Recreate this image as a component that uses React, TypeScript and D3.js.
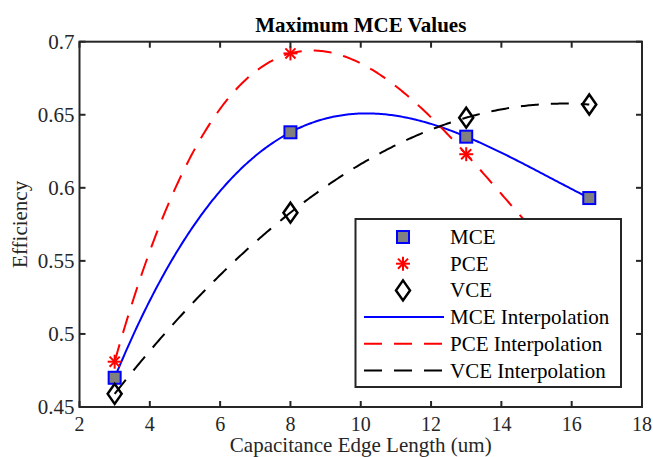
import React from "react";
import * as d3 from "d3";

const edgeLengths = [3, 8, 13, 16.5];
const mceValues = [0.47, 0.638, 0.635, 0.593];
const pceValues = [0.481, 0.692, 0.623, 0.531];
const vceValues = [0.459, 0.583, 0.648, 0.657];
const xTicks = [2, 4, 6, 8, 10, 12, 14, 16, 18];
const yTicks = [0.45, 0.5, 0.55, 0.6, 0.65, 0.7];
const legendLabels = ["MCE", "PCE", "VCE", "MCE Interpolation", "PCE Interpolation", "VCE Interpolation"];

const W = 653;
const H = 457;
const FONT = "Liberation Serif";
const AX = "#262626";
const txt = { fontFamily: FONT };

function lagrange(xs: number[], ys: number[], x: number) {
  let s = 0;
  for (let i = 0; i < xs.length; i++) {
    let t = ys[i];
    for (let j = 0; j < xs.length; j++) if (j !== i) t *= (x - xs[j]) / (xs[i] - xs[j]);
    s += t;
  }
  return s;
}

function Square({ x, y }: { x: number; y: number }) {
  return <rect x={x - 6} y={y - 6} width={12} height={12} fill="#808080" stroke="#0000ff" strokeWidth={2} />;
}
function Star({ x, y }: { x: number; y: number }) {
  const r = 7;
  const d = r * 0.72;
  return (
    <g stroke="#ff0000" strokeWidth={2}>
      <line x1={x - r} y1={y} x2={x + r} y2={y} />
      <line x1={x} y1={y - r} x2={x} y2={y + r} />
      <line x1={x - d} y1={y - d} x2={x + d} y2={y + d} />
      <line x1={x - d} y1={y + d} x2={x + d} y2={y - d} />
    </g>
  );
}
function Diamond({ x, y }: { x: number; y: number }) {
  return (
    <path
      d={`M${x},${y - 10} L${x + 7},${y} L${x},${y + 10} L${x - 7},${y} Z`}
      fill="none"
      stroke="#000"
      strokeWidth={2.5}
    />
  );
}

export default function App() {
  const left = 79.5, right = 642, top = 41.7, bottom = 407;
  const x = d3.scaleLinear().domain([2, 18]).range([left, right]);
  const y = d3.scaleLinear().domain([0.45, 0.7]).range([bottom, top]);
  const samples = d3.range(0, 301).map((i) => 3 + (i / 300) * (16.5 - 3));
  const line = d3
    .line<number[]>()
    .x((d) => x(d[0]))
    .y((d) => y(d[1]));
  const curve = (vals: number[]) => line(samples.map((s) => [s, lagrange(edgeLengths, vals, s)]))!;

  const legX = 355.5, legY = 219, legW = 265.5, legH = 168;
  const rowY = (i: number) => 237 + i * 26.7;
  const markX = 403;

  return (
    <svg width={W} height={H} style={{ position: "absolute", left: 0, top: 0, background: "#fff" }}>
      <defs>
        <clipPath id="plotclip">
          <rect x={left} y={top} width={right - left} height={bottom - top} />
        </clipPath>
      </defs>
      <rect width={W} height={H} fill="#fff" />
      <g clipPath="url(#plotclip)" fill="none" strokeWidth={2}>
        <path d={curve(mceValues)} stroke="#0000ff" />
        <path d={curve(pceValues)} stroke="#ff0000" strokeDasharray="18,12" />
        <path d={curve(vceValues)} stroke="#000" strokeDasharray="18,12" />
      </g>
      {edgeLengths.map((e, i) => (
        <g key={"m" + i}>
          <Square x={x(e)} y={y(mceValues[i])} />
          <Star x={x(e)} y={y(pceValues[i])} />
          <Diamond x={x(e)} y={y(vceValues[i])} />
        </g>
      ))}
      <rect x={left} y={top} width={right - left} height={bottom - top} fill="none" stroke={AX} strokeWidth={2} />
      {xTicks.map((t) => (
        <g key={"xt" + t}>
          <line x1={x(t)} x2={x(t)} y1={bottom} y2={bottom - 6} stroke={AX} strokeWidth={2} />
          <line x1={x(t)} x2={x(t)} y1={top} y2={top + 6} stroke={AX} strokeWidth={2} />
          <text x={x(t)} y={431} textAnchor="middle" fontSize={20} fill="#262626" style={txt}>
            {t}
          </text>
        </g>
      ))}
      {yTicks.map((t) => (
        <g key={"yt" + t}>
          <line x1={left} x2={left + 6} y1={y(t)} y2={y(t)} stroke={AX} strokeWidth={2} />
          <line x1={right} x2={right - 6} y1={y(t)} y2={y(t)} stroke={AX} strokeWidth={2} />
          <text x={left - 5} y={y(t) + 7} textAnchor="end" fontSize={21} fill="#262626" style={txt}>
            {d3.format("")(t)}
          </text>
        </g>
      ))}
      <text x={(left + right) / 2} y={32} textAnchor="middle" fontSize={21} fontWeight="bold" fill="#000" style={txt}>
        Maximum MCE Values
      </text>
      <text x={(left + right) / 2} y={452} textAnchor="middle" fontSize={21} fill="#262626" style={txt}>
        Capacitance Edge Length (um)
      </text>
      <text
        transform={`translate(27,${(top + bottom) / 2}) rotate(-90)`}
        textAnchor="middle"
        fontSize={21}
        fill="#262626"
        style={txt}
      >
        Efficiency
      </text>
      <rect x={legX} y={legY} width={legW} height={legH} fill="#fff" stroke={AX} strokeWidth={2} />
      <Square x={markX} y={rowY(0)} />
      <Star x={markX} y={rowY(1)} />
      <Diamond x={markX} y={rowY(2)} />
      <line x1={364} x2={444} y1={rowY(3)} y2={rowY(3)} stroke="#0000ff" strokeWidth={2} />
      <line x1={364} x2={444} y1={rowY(4)} y2={rowY(4)} stroke="#ff0000" strokeWidth={2} strokeDasharray="18,12" />
      <line x1={364} x2={444} y1={rowY(5)} y2={rowY(5)} stroke="#000" strokeWidth={2} strokeDasharray="18,12" />
      {legendLabels.map((l, i) => (
        <text key={l} x={450} y={rowY(i) + 7} fontSize={21} fill="#000" style={txt}>
          {l}
        </text>
      ))}
    </svg>
  );
}
